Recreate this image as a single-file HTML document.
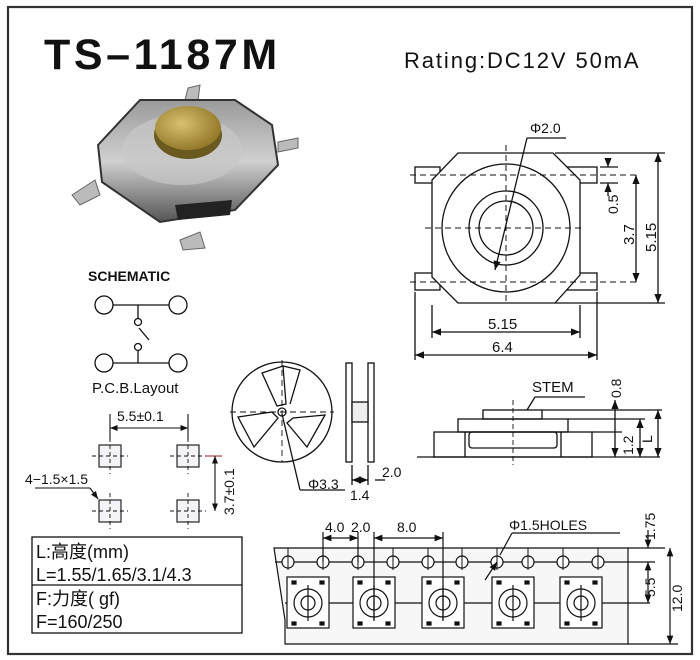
<!DOCTYPE html>
<html><head><meta charset="utf-8"><style>
html,body{margin:0;padding:0;background:#fff;}
svg{display:block;}
text{font-family:"Liberation Sans","Noto Sans CJK SC",sans-serif;fill:#111;}
</style></head><body>
<svg width="700" height="660" viewBox="0 0 700 660" xmlns="http://www.w3.org/2000/svg">
<defs>
<marker id="a" viewBox="0 0 10 10" refX="10" refY="5" markerWidth="7" markerHeight="7" orient="auto-start-reverse"><path d="M0,1 L10,5 L0,9z" fill="#111"/></marker>
<radialGradient id="g" cx="0.4" cy="0.4" r="0.7"><stop offset="0" stop-color="#d8c070"/><stop offset="1" stop-color="#8a7020"/></radialGradient>
<linearGradient id="m" x1="0" y1="0" x2="0" y2="1"><stop offset="0" stop-color="#9a9a9a"/><stop offset="0.5" stop-color="#d0d0d0"/><stop offset="1" stop-color="#555"/></linearGradient>
</defs>
<rect x="8" y="7" width="684" height="647" fill="none" stroke="#333" stroke-width="2.2"/>
<text x="44" y="69" font-size="43" font-weight="bold" letter-spacing="3.6">TS–1187M</text>
<text x="404" y="68" font-size="22" letter-spacing="1.9">Rating:DC12V 50mA</text>

<!-- photo -->
<g>
<path d="M188,88 L200,85 L198,100 L185,100z" fill="#bbb" stroke="#666"/>
<path d="M278,142 L298,138 L298,148 L278,152z" fill="#bbb" stroke="#666"/>
<path d="M72,195 L95,180 L100,195 L80,205z" fill="#bbb" stroke="#666"/>
<path d="M180,240 L200,232 L205,248 L183,250z" fill="#bbb" stroke="#666"/>
<path d="M98,145 L140,100 L235,100 L272,125 L278,165 L235,210 L160,222 L102,182z" fill="url(#m)" stroke="#333" stroke-width="2"/>
<ellipse cx="182" cy="150" rx="60" ry="35" fill="#c8c8c8" opacity="0.7"/>
<path d="M175,205 L232,200 L230,215 L178,220z" fill="#222"/>
<ellipse cx="188" cy="135" rx="34" ry="24" fill="#6a5a20"/>
<ellipse cx="188" cy="128" rx="33" ry="22" fill="url(#g)"/>
</g>

<!-- top view -->
<g fill="none" stroke="#111" stroke-width="1.3">
<rect x="415" y="167" width="25" height="16"/><rect x="566" y="167" width="31" height="16"/>
<rect x="415" y="273" width="25" height="17"/><rect x="566" y="273" width="31" height="17"/>
<path d="M458,153 L553,153 L580,180 L580,275 L555,303 L458,303 L432,277 L432,180z" fill="#fff"/>
<circle cx="506" cy="228" r="64"/><circle cx="506" cy="228" r="37"/><circle cx="506" cy="228" r="27"/>
<g stroke-dasharray="6,4" stroke-width="1"><line x1="506" y1="145" x2="506" y2="305"/><line x1="425" y1="228" x2="582" y2="228"/>
<line x1="410" y1="175" x2="640" y2="175"/><line x1="410" y1="282" x2="640" y2="282"/></g>
<line x1="527" y1="138" x2="495" y2="270" marker-end="url(#a)"/>
<line x1="527" y1="138" x2="566" y2="138"/>
<line x1="555" y1="153" x2="665" y2="153"/><line x1="555" y1="303" x2="665" y2="303"/>
<line x1="658" y1="153" x2="658" y2="303" marker-start="url(#a)" marker-end="url(#a)"/>
<line x1="636" y1="175" x2="636" y2="282" marker-start="url(#a)" marker-end="url(#a)"/>
<line x1="608" y1="158" x2="608" y2="167" marker-end="url(#a)"/><line x1="608" y1="192" x2="608" y2="183" marker-end="url(#a)"/>
<line x1="600" y1="167" x2="618" y2="167"/><line x1="600" y1="183" x2="618" y2="183"/><line x1="608" y1="192" x2="608" y2="196"/>
<line x1="432" y1="305" x2="432" y2="338"/><line x1="580" y1="305" x2="580" y2="338"/>
<line x1="415" y1="292" x2="415" y2="360"/><line x1="597" y1="292" x2="597" y2="360"/>
<line x1="432" y1="332" x2="580" y2="332" marker-start="url(#a)" marker-end="url(#a)"/>
<line x1="415" y1="355" x2="597" y2="355" marker-start="url(#a)" marker-end="url(#a)"/>
</g>
<text x="530" y="133" font-size="14">Φ2.0</text>
<text x="488" y="329" font-size="15">5.15</text>
<text x="492" y="352" font-size="15">6.4</text>
<text transform="translate(656,252) rotate(-90)" font-size="15">5.15</text>
<text transform="translate(634,245) rotate(-90)" font-size="15">3.7</text>
<text transform="translate(618,214) rotate(-90)" font-size="14">0.5</text>

<!-- schematic -->
<text x="88" y="281" font-size="14" font-weight="bold">SCHEMATIC</text>
<g fill="none" stroke="#111" stroke-width="1.3">
<circle cx="104" cy="305" r="9"/><circle cx="178" cy="305" r="9"/>
<circle cx="104" cy="363" r="9"/><circle cx="178" cy="363" r="9"/>
<line x1="113" y1="305" x2="169" y2="305"/><line x1="113" y1="363" x2="169" y2="363"/>
<line x1="138" y1="305" x2="138" y2="318"/><circle cx="138" cy="322" r="3.5"/>
<line x1="139" y1="328" x2="149" y2="340"/>
<circle cx="138" cy="347" r="3.5"/><line x1="138" y1="351" x2="138" y2="363"/>
</g>
<text x="92" y="393" font-size="15">P.C.B.Layout</text>

<!-- pcb -->
<text x="117" y="421" font-size="14">5.5±0.1</text>
<g fill="none" stroke="#111" stroke-width="1.1">
<line x1="110" y1="414" x2="110" y2="440"/><line x1="188" y1="414" x2="188" y2="440"/>
<line x1="110" y1="428" x2="188" y2="428" marker-start="url(#a)" marker-end="url(#a)"/>
<g fill="#f4f4f8"><rect x="99" y="445" width="22" height="22"/><rect x="177" y="445" width="22" height="22"/><rect x="99" y="500" width="22" height="22"/><rect x="177" y="500" width="22" height="22"/></g>
<g stroke-dasharray="4,3" stroke-width="0.9">
<line x1="110" y1="438" x2="110" y2="474"/><line x1="92" y1="456" x2="128" y2="456"/>
<line x1="188" y1="438" x2="188" y2="474"/><line x1="170" y1="456" x2="206" y2="456"/>
<line x1="110" y1="493" x2="110" y2="529"/><line x1="92" y1="511" x2="128" y2="511"/>
<line x1="188" y1="493" x2="188" y2="529"/><line x1="170" y1="511" x2="206" y2="511"/></g>
<line x1="206" y1="456" x2="222" y2="456" stroke="#a33"/>
<line x1="215" y1="456" x2="215" y2="511" marker-start="url(#a)" marker-end="url(#a)"/>
<line x1="35" y1="488" x2="90" y2="488"/><line x1="90" y1="488" x2="98" y2="499" marker-end="url(#a)"/>
</g>
<text x="25" y="484" font-size="14">4−1.5×1.5</text>
<text transform="translate(234,515) rotate(-90)" font-size="14">3.7±0.1</text>

<!-- table -->
<rect x="32" y="537" width="210" height="96" fill="none" stroke="#111" stroke-width="1.3"/>
<line x1="32" y1="585" x2="242" y2="585" stroke="#111" stroke-width="1.3"/>
<text x="36" y="558" font-size="18">L:高度(mm)</text>
<text x="36" y="581" font-size="18">L=1.55/1.65/3.1/4.3</text>
<text x="36" y="605" font-size="18">F:力度( gf)</text>
<text x="36" y="628" font-size="18">F=160/250</text>

<!-- reel -->
<g fill="none" stroke="#111" stroke-width="1.3">
<circle cx="282" cy="412" r="50"/>
<path d="M262,373 L283,366 L286,404 L277,406z"/>
<path d="M283,366 L300,370 L290,404"/>
<path d="M238,417 L272,412 L278,418 L254,447z"/>
<path d="M293,418 L325,415 L307,447 L287,423z"/>
<circle cx="282" cy="412" r="4"/>
<line x1="282" y1="360" x2="282" y2="462" stroke-dasharray="6,4" stroke-width="0.9"/>
<line x1="230" y1="412" x2="334" y2="412" stroke-dasharray="6,4" stroke-width="0.9"/>
<line x1="282" y1="414" x2="300" y2="490"/><line x1="300" y1="490" x2="345" y2="490"/>
<rect x="346" y="363" width="6" height="99" fill="#fff"/><rect x="368" y="363" width="6" height="99" fill="#fff"/>
<rect x="352" y="402" width="16" height="20" fill="#eee"/>
<line x1="352" y1="465" x2="352" y2="485"/><line x1="368" y1="465" x2="368" y2="485"/>
<line x1="352" y1="480" x2="368" y2="480" marker-start="url(#a)" marker-end="url(#a)"/>
<line x1="375" y1="480" x2="385" y2="480"/>
</g>
<text x="308" y="489" font-size="14">Φ3.3</text>
<text x="350" y="500" font-size="14">1.4</text>
<text x="382" y="477" font-size="14">2.0</text>

<!-- side view -->
<g fill="none" stroke="#111" stroke-width="1.3">
<rect x="434" y="432" width="158" height="25"/>
<rect x="458" y="419" width="110" height="13"/>
<rect x="483" y="410" width="59" height="9"/>
<path d="M465,432 L465,457 M561,432 L561,457"/>
<rect x="469" y="432" width="88" height="16" rx="3"/>
<line x1="417" y1="457" x2="660" y2="457"/>
<line x1="513" y1="400" x2="513" y2="465" stroke-dasharray="5,3" stroke-width="0.9"/>
<line x1="542" y1="410" x2="662" y2="410"/><line x1="568" y1="419" x2="645" y2="419"/><line x1="592" y1="432" x2="622" y2="432"/>
<line x1="527" y1="410" x2="535" y2="397"/><line x1="535" y1="397" x2="585" y2="397"/>
<line x1="615" y1="400" x2="615" y2="457" marker-start="url(#a)" marker-end="url(#a)"/>
<line x1="640" y1="419" x2="640" y2="457" marker-start="url(#a)" marker-end="url(#a)"/>
<line x1="658" y1="410" x2="658" y2="457" marker-start="url(#a)" marker-end="url(#a)"/>
</g>
<text x="532" y="392" font-size="15">STEM</text>
<text transform="translate(621,398) rotate(-90)" font-size="14">0.8</text>
<text transform="translate(633,455) rotate(-90)" font-size="14">1.2</text>
<text transform="translate(652,443) rotate(-90)" font-size="14">L</text>

<!-- tape -->
<g fill="none" stroke="#111" stroke-width="1.2">
<path d="M274,548 L628,548 L628,644 L285,644 L285,620 L274,548z" fill="#f7f7f7"/>
<line x1="628" y1="548" x2="665" y2="548"/><line x1="628" y1="644" x2="678" y2="644"/>
<line x1="275" y1="562" x2="655" y2="562"/><line x1="285" y1="603" x2="650" y2="603"/>
<g fill="#fff">
<circle cx="288" cy="562" r="6"/><circle cx="323" cy="562" r="6"/><circle cx="358" cy="562" r="6"/><circle cx="393" cy="562" r="6"/><circle cx="428" cy="562" r="6"/><circle cx="462" cy="562" r="6"/><circle cx="497" cy="562" r="6"/><circle cx="528" cy="562" r="6"/><circle cx="563" cy="562" r="6"/><circle cx="598" cy="562" r="6"/>
</g>
<g stroke-width="1">
<line x1="288" y1="548" x2="288" y2="570"/><line x1="323" y1="548" x2="323" y2="570"/><line x1="358" y1="548" x2="358" y2="570"/><line x1="393" y1="548" x2="393" y2="570"/><line x1="428" y1="548" x2="428" y2="570"/><line x1="462" y1="548" x2="462" y2="570"/><line x1="497" y1="548" x2="497" y2="570"/><line x1="528" y1="548" x2="528" y2="570"/><line x1="563" y1="548" x2="563" y2="570"/><line x1="598" y1="548" x2="598" y2="570"/>
</g>
<g id="pk">
<rect x="287" y="577" width="42" height="51" fill="#fff"/>
<circle cx="308" cy="603" r="14"/><circle cx="308" cy="603" r="7"/><line x1="308" y1="585" x2="308" y2="621"/>
<rect x="292" y="581" width="4" height="3" fill="#111"/><rect x="320" y="581" width="4" height="3" fill="#111"/><rect x="292" y="622" width="4" height="3" fill="#111"/><rect x="320" y="622" width="4" height="3" fill="#111"/>
</g>
<use href="#pk" x="66"/><use href="#pk" x="135"/><use href="#pk" x="205"/><use href="#pk" x="273"/>
<line x1="323" y1="532" x2="323" y2="562"/><line x1="358" y1="532" x2="358" y2="562"/><line x1="374" y1="532" x2="374" y2="620"/><line x1="443" y1="532" x2="443" y2="620"/>
<line x1="323" y1="538" x2="358" y2="538" marker-start="url(#a)" marker-end="url(#a)"/>
<line x1="374" y1="538" x2="443" y2="538" marker-start="url(#a)" marker-end="url(#a)"/>
<line x1="485" y1="580" x2="497" y2="562" marker-end="url(#a)"/><line x1="500" y1="555" x2="512" y2="533"/><line x1="512" y1="533" x2="620" y2="533"/>
<line x1="648" y1="530" x2="648" y2="548" marker-end="url(#a)"/><line x1="648" y1="562" x2="648" y2="603" marker-start="url(#a)" marker-end="url(#a)"/>
<line x1="670" y1="548" x2="670" y2="644" marker-start="url(#a)" marker-end="url(#a)"/>
</g>
<text x="325" y="532" font-size="14">4.0</text>
<text x="351" y="532" font-size="14">2.0</text>
<text x="397" y="532" font-size="14">8.0</text>
<text x="509" y="530" font-size="14">Φ1.5HOLES</text>
<text transform="translate(655,540) rotate(-90)" font-size="14">1.75</text>
<text transform="translate(655,597) rotate(-90)" font-size="14">5.5</text>
<text transform="translate(682,612) rotate(-90)" font-size="14">12.0</text>
</svg>
</body></html>
